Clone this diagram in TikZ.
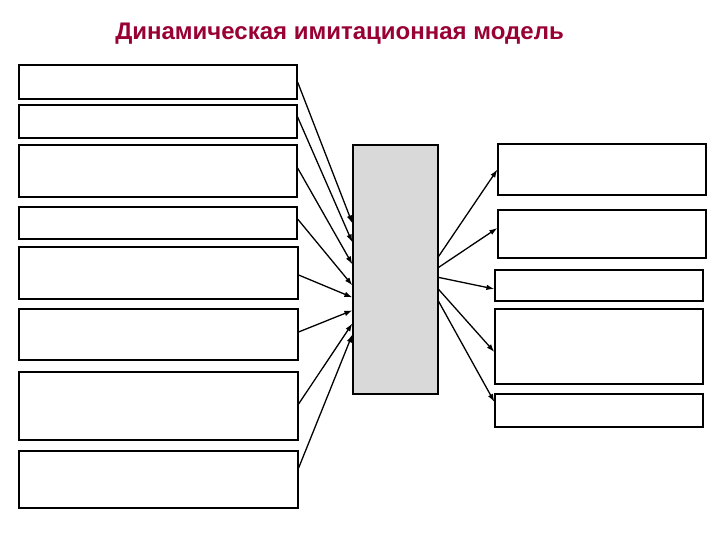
\documentclass[tikz,border=0pt]{standalone}
\usepackage{fontspec}
\setmainfont{Liberation Sans}
\usetikzlibrary{arrows.meta}
\definecolor{titlered}{RGB}{153,0,51}
\definecolor{coregray}{RGB}{217,217,217}

\begin{document}
\begin{tikzpicture}[
    x=1pt, y=-1pt,
    >={Latex[length=8pt, width=5.5pt]},
    lbox/.style ={draw, line width=1.2pt, minimum width=278pt, inner sep=0pt},
    rbox/.style ={draw, line width=1.2pt, minimum width=208pt, inner sep=0pt},
    core/.style ={draw, line width=1.2pt, fill=coregray, minimum width=85pt,
                  minimum height=249pt, inner sep=0pt},
    flow/.style ={->, line width=1.3pt},
]
\useasboundingbox (0,0) rectangle (720,540);
\node[anchor=base, text=titlered, font=\fontsize{24}{28}\selectfont\bfseries]
  (title) at (339.5,40) {Динамическая имитационная модель};
% input boxes
\node[lbox, minimum height=34pt] (l1) at (158,82) {};
\node[lbox, minimum height=33pt] (l2) at (158,121.5) {};
\node[lbox, minimum height=52pt] (l3) at (158,171) {};
\node[lbox, minimum height=32pt] (l4) at (158,223) {};
\node[lbox, minimum width=279pt, minimum height=52pt] (l5) at (158.5,273) {};
\node[lbox, minimum width=279pt, minimum height=51pt] (l6) at (158.5,334.5) {};
\node[lbox, minimum width=279pt, minimum height=68pt] (l7) at (158.5,406) {};
\node[lbox, minimum width=279pt, minimum height=57pt] (l8) at (158.5,479.5) {};
% the model
\node[core] (model) at (395.5,269.5) {};
% output boxes
\node[rbox, minimum height=51pt] (r1) at (602,169.5) {};
\node[rbox, minimum height=48pt] (r2) at (602,234) {};
\node[rbox, minimum height=31pt] (r3) at (599,285.5) {};
\node[rbox, minimum height=75pt] (r4) at (599,346.5) {};
\node[rbox, minimum height=33pt] (r5) at (599,410.5) {};
% inputs
\draw[flow] (l1.east) -- ([yshift=-79pt]model.north west);
\draw[flow] ([yshift=4.5pt]l2.east) -- ([yshift=-98pt]model.north west);
\draw[flow] ([yshift=3pt]l3.east) -- ([yshift=-120pt]model.north west);
\draw[flow] ([yshift=4pt]l4.east) -- ([yshift=-141pt]model.north west);
\draw[flow] ([yshift=-2pt]l5.east) -- ([yshift=-153pt]model.north west);
\draw[flow] ([yshift=2.5pt]l6.east) -- ([yshift=-166pt]model.north west);
\draw[flow] ([yshift=2pt]l7.east) -- ([yshift=-179pt]model.north west);
\draw[flow] ([yshift=11.5pt]l8.east) -- ([yshift=-190pt]model.north west);
% outputs
\draw[flow] ([yshift=-112pt]model.north east) -- (r1.west);
\draw[flow] ([yshift=-123pt]model.north east) -- ([yshift=6pt]r2.west);
\draw[flow] ([yshift=-133pt]model.north east) -- ([yshift=-3.5pt]r3.west);
\draw[flow] ([yshift=-145pt]model.north east) -- ([yshift=-5.5pt]r4.west);
\draw[flow] ([yshift=-157pt]model.north east) -- ([yshift=8.5pt]r5.west);
\end{tikzpicture}
\end{document}
